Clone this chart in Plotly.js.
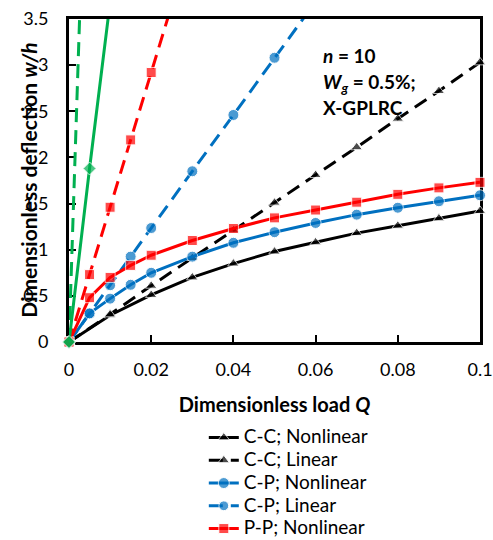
<!DOCTYPE html>
<html>
<head>
<meta charset="utf-8">
<script src="https://cdn.plot.ly/plotly-3.0.1.min.js"></script>
<style>html,body{margin:0;padding:0;background:#fff;}#chart{width:493px;height:540px;}</style>
</head>
<body>
<div id="chart"></div>
<script>
// ---- data ----
var qCC = [0, 0.01, 0.02, 0.03, 0.04, 0.05, 0.06, 0.07, 0.08, 0.09, 0.1];
var ccNonlinear = [0, 0.29, 0.51, 0.70, 0.85, 0.98, 1.08, 1.18, 1.26, 1.34, 1.42];
var ccLinear = [0, 0.30, 0.61, 0.91, 1.21, 1.51, 1.81, 2.11, 2.42, 2.72, 3.03];

var qFine = [0, 0.005, 0.01, 0.015, 0.02, 0.03, 0.04, 0.05, 0.06, 0.07, 0.08, 0.09, 0.1];
var cpNonlinear = [0, 0.31, 0.47, 0.62, 0.75, 0.925, 1.075, 1.19, 1.29, 1.38, 1.455, 1.525, 1.59];
var ppNonlinear = [0, 0.48, 0.70, 0.83, 0.94, 1.10, 1.23, 1.345, 1.43, 1.515, 1.60, 1.67, 1.73];

var qCPLin = [0, 0.005, 0.01, 0.015, 0.02, 0.03, 0.04, 0.05, 0.06];
var cpLinear = [0, 0.31, 0.615, 0.925, 1.235, 1.85, 2.46, 3.08, 3.69];

var qPPLin = [0, 0.005, 0.01, 0.015, 0.02, 0.025];
var ppLinear = [0, 0.73, 1.46, 2.19, 2.92, 3.65];

var qGreen = [0, 0.005, 0.01];
var greenNonlinear = [0, 1.88, 3.68];
var qGreenLin = [0, 0.005];
var greenLinear = [0, 6.8];

var xTicks = [0, 0.02, 0.04, 0.06, 0.08, 0.1];
var yTicks = [0, 0.5, 1, 1.5, 2, 2.5, 3, 3.5];
var yMax = 3.5;

var FONT = 'Lato, "Open Sans", sans-serif';
var BLACK = '#000000', BLUE = '#0070C0', RED = '#FF0000', GREEN = '#00B050';
var DASH = '14px,8px';

function sizes(vals, s) { return vals.map(function (v) { return v > yMax ? 0 : s; }); }
function legName(n) { return '<span style="font-size:19px">' + n + '</span>'; }

function tr(name, x, y, color, dash, symbol, size, showlegend) {
  return {
    type: 'scatter', mode: 'lines+markers', name: legName(name), x: x, y: y,
    line: {color: color, width: 3, dash: dash},
    marker: {color: color, symbol: symbol, size: sizes(y, size)},
    cliponaxis: false, showlegend: showlegend
  };
}

var data = [
  tr('C-C; Nonlinear', qCC, ccNonlinear, BLACK, 'solid', 'triangle-up', 10, true),
  tr('C-C; Linear', qCC, ccLinear, BLACK, DASH, 'triangle-up', 10, true),
  tr('C-P; Nonlinear', qFine, cpNonlinear, BLUE, 'solid', 'circle', 11, true),
  tr('C-P; Linear', qCPLin, cpLinear, BLUE, DASH, 'circle', 11, true),
  tr('P-P; Nonlinear', qFine, ppNonlinear, RED, 'solid', 'square', 10, true),
  tr('P-P; Linear', qPPLin, ppLinear, RED, DASH, 'square', 10, false),
  tr('S-S; Linear', qGreenLin, greenLinear, GREEN, DASH, 'diamond', 10, false),
  tr('S-S; Nonlinear', qGreen, greenNonlinear, GREEN, 'solid', 'diamond', 10, false)
];

var layout = {
  width: 493, height: 540,
  margin: {l: 68.5, r: 12.5, t: 19, b: 198, autoexpand: false},
  paper_bgcolor: '#fff', plot_bgcolor: '#fff',
  font: {family: FONT, size: 18, color: '#000'},
  showlegend: true,
  legend: {
    x: 0.328, xanchor: 'left', y: -0.245, yanchor: 'top',
    font: {family: FONT, size: 15.2, color: '#000'},
    bgcolor: 'rgba(0,0,0,0)', tracegroupgap: 0, borderwidth: 0
  },
  xaxis: {
    range: [0, 0.1], tickvals: xTicks, ticktext: xTicks.map(String),
    showgrid: false, zeroline: false,
    showline: true, linecolor: '#000', linewidth: 3, mirror: true,
    ticks: 'inside', ticklen: 7, tickwidth: 2, tickcolor: '#000',
    ticklabelstandoff: 9,
    tickfont: {family: FONT, size: 18, color: '#000'},
    layer: 'below traces',
    title: {text: '<b>Dimensionless load <i>Q</i></b>', font: {family: FONT, size: 20, color: '#000'}, standoff: 20}
  },
  yaxis: {
    range: [0, 3.5], tickvals: yTicks, ticktext: yTicks.map(String),
    showgrid: false, zeroline: false,
    showline: true, linecolor: '#000', linewidth: 3, mirror: true,
    ticks: 'inside', ticklen: 7, tickwidth: 2, tickcolor: '#000',
    ticklabelstandoff: 14,
    tickfont: {family: FONT, size: 18, color: '#000'},
    layer: 'below traces'
  },
  annotations: [
    {xref: 'paper', yref: 'paper', x: -0.1007, y: 0.5015, xanchor: 'center', yanchor: 'middle',
     textangle: -90, showarrow: false,
     text: '<b>Dimensionless deflection <i>w/h</i></b>', font: {family: FONT, size: 21, color: '#000'}},
    {xref: 'paper', yref: 'paper', x: 0.614, y: 0.888, xanchor: 'left', yanchor: 'middle', showarrow: false,
     text: '<b><i>n</i> = 10</b>', font: {family: FONT, size: 19, color: '#000'}},
    {xref: 'paper', yref: 'paper', x: 0.614, y: 0.803, xanchor: 'left', yanchor: 'middle', showarrow: false,
     text: '<b><i>W<sub>g</sub></i> = 0.5%;</b>', font: {family: FONT, size: 19, color: '#000'}},
    {xref: 'paper', yref: 'paper', x: 0.614, y: 0.727, xanchor: 'left', yanchor: 'middle', showarrow: false,
     text: '<b>X-GPLRC</b>', font: {family: FONT, size: 19, color: '#000'}}
  ]
};

Plotly.newPlot('chart', data, layout, {displayModeBar: false, staticPlot: true});
</script>
</body>
</html>
